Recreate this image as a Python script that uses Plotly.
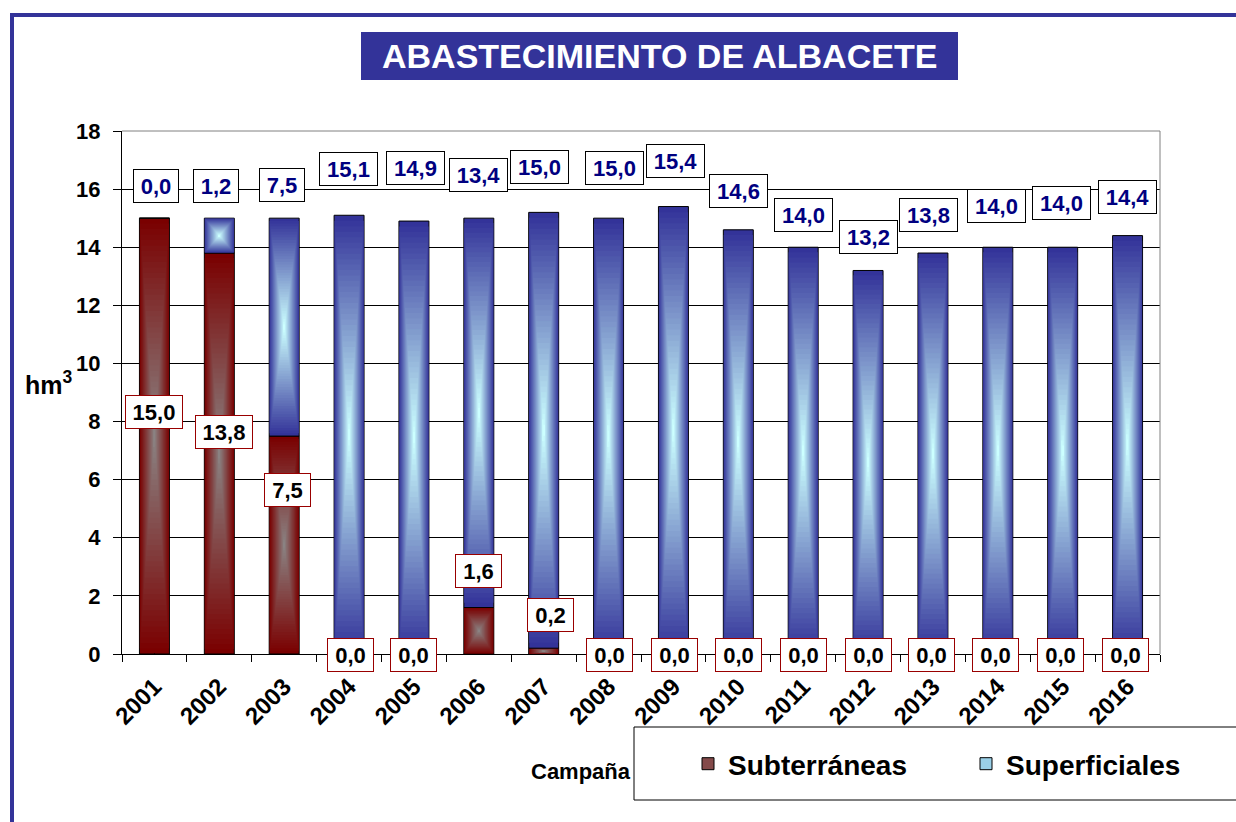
import plotly.graph_objects as go
import numpy as np

# ---------------- data ----------------
years = [str(y) for y in range(2001, 2017)]
subterraneas = [15.0, 13.8, 7.5, 0.0, 0.0, 1.6, 0.2, 0.0, 0.0, 0.0, 0.0, 0.0, 0.0, 0.0, 0.0, 0.0]
superficiales = [0.0, 1.2, 7.5, 15.1, 14.9, 13.4, 15.0, 15.0, 15.4, 14.6, 14.0, 13.2, 13.8, 14.0, 14.0, 14.4]
y_ticks = [0, 2, 4, 6, 8, 10, 12, 14, 16, 18]

# label placement (data-y of label centres, horizontal nudges in px)
sup_label_y = [16.11, 16.11, 16.14, 16.69, 16.73, 16.49, 16.76, 16.73, 16.97, 15.94, 15.11, 14.35, 15.11, 15.42, 15.52, 15.73]
sup_label_dx = [1.5, -3, -2, -1, 2, 0, -4, 6, 2.5, 0, 0, 0, -4, -1, -1, 0]
sub_label_y = [8.33, 7.64, 5.64, 0, 0, 2.86, 1.34, 0, 0, 0, 0, 0, 0, 0, 0, 0]
sub_label_dx = [0, 5, 3, 1, 0, 0, 7, 1, 1, 0, 0, 0, -1, -2, -2, -2]

FONT = "Liberation Sans, Arial, sans-serif"
BAR_W = 0.462
N_LAYERS = 40


def hex2rgb(h):
    h = h.lstrip('#')
    return [int(h[i:i + 2], 16) for i in (0, 2, 4)]


def lerp(c1, c2, t):
    a, b = hex2rgb(c1), hex2rgb(c2)
    return 'rgb(%d,%d,%d)' % tuple(round(a[i] + (b[i] - a[i]) * t) for i in range(3))


fig = go.Figure()

sub = np.array(subterraneas)
sup = np.array(superficiales)
series = [
    ("Subterráneas", sub, np.zeros_like(sub), '#7a0000', '#8a8282'),
    ("Superficiales", sup, sub, '#333399', '#ccffff'),
]

for name, vals, bases, dark, light in series:
    for k in range(N_LAYERS):
        f = k / N_LAYERS
        fig.add_trace(go.Bar(
            x=years, y=vals * (1 - f), base=bases + vals * f / 2,
            width=BAR_W * (1 - f),
            marker=dict(color=lerp(dark, light, k / (N_LAYERS - 1)),
                        line=dict(width=1 if k == 0 else 0, color='black')),
            showlegend=False, hoverinfo='skip', name=name))

# legend entries (zero-height, sit on the axis line)
fig.add_trace(go.Bar(x=[years[0]], y=[0], base=[0], width=0.01, name="Subterráneas",
                     hoverinfo='skip',
                     marker=dict(color='#844a4a', line=dict(color='black', width=1))))
fig.add_trace(go.Bar(x=[years[0]], y=[0], base=[0], width=0.01, name="Superficiales",
                     hoverinfo='skip',
                     marker=dict(color='#9ad0e8', line=dict(color='black', width=1))))


def fmt(v):
    return ("%.1f" % v).replace('.', ',')


annotations = []
for i, yr in enumerate(years):
    t = fmt(superficiales[i])
    annotations.append(dict(
        x=i, y=sup_label_y[i], xref='x', yref='y', text=t,
        showarrow=False, xshift=sup_label_dx[i], xanchor='center', yanchor='middle',
        font=dict(family=FONT, size=22, color='#000080', weight='bold'),
        bgcolor='white', bordercolor='black', borderwidth=1, borderpad=1,
        width=42 if len(t) == 3 else 55, height=30))
    t = fmt(subterraneas[i])
    annotations.append(dict(
        x=i, y=sub_label_y[i], xref='x', yref='y', text=t,
        showarrow=False, xshift=sub_label_dx[i], yshift=-1 if sub_label_y[i] == 0 else 0,
        xanchor='center', yanchor='middle',
        font=dict(family=FONT, size=22, color='black', weight='bold'),
        bgcolor='white', bordercolor='#990000', borderwidth=1, borderpad=1,
        width=43 if len(t) == 3 else 54, height=30))


def px(v):
    return (v - 122) / 1038


def py(v):
    return (654 - v) / 523


# title, axis titles
annotations.append(dict(
    x=px(660), y=py(56), xref='paper', yref='paper', xanchor='center', yanchor='middle',
    text="ABASTECIMIENTO DE ALBACETE", showarrow=False,
    font=dict(family=FONT, size=34, color='white', weight='bold')))
annotations.append(dict(
    x=px(49), y=py(383), xref='paper', yref='paper', xanchor='center', yanchor='middle',
    text="hm<sup>3</sup>", showarrow=False,
    font=dict(family=FONT, size=25, color='black', weight='bold')))
annotations.append(dict(
    x=px(633), y=py(771), xref='paper', yref='paper', xanchor='right', yanchor='middle',
    text="Campaña", showarrow=False,
    font=dict(family=FONT, size=22, color='black', weight='bold')))

shapes = [
    # title box
    dict(type='rect', xref='paper', yref='paper', x0=px(361), x1=px(958), y0=py(80), y1=py(32),
         fillcolor='#333399', line=dict(width=0), layer='below'),
    # outer frame (left & top)
    dict(type='line', xref='paper', yref='paper', x0=px(12), x1=px(12), y0=py(15), y1=py(830),
         line=dict(color='#333399', width=4)),
    dict(type='line', xref='paper', yref='paper', x0=px(10), x1=px(1240), y0=py(15), y1=py(15),
         line=dict(color='#333399', width=4)),
    # plot area border (top & right)
    dict(type='line', xref='paper', yref='paper', x0=0, x1=1, y0=1, y1=1,
         line=dict(color='#808080', width=1)),
    dict(type='line', xref='paper', yref='paper', x0=1, x1=1, y0=0, y1=1,
         line=dict(color='#808080', width=1)),
    # legend box
    dict(type='rect', xref='paper', yref='paper', x0=px(634), x1=px(1245), y0=py(800), y1=py(727),
         fillcolor='white', line=dict(color='black', width=1)),
]

fig.update_layout(
    width=1236, height=822,
    margin=dict(l=122, r=76, t=131, b=168, autoexpand=False),
    paper_bgcolor='white', plot_bgcolor='white',
    barmode='overlay',
    font=dict(family=FONT, color='black'),
    showlegend=True,
    legend=dict(orientation='h', x=px(688), y=py(764), xanchor='left', yanchor='middle',
                bgcolor='rgba(0,0,0,0)', borderwidth=0, itemwidth=30,
                font=dict(family=FONT, size=28, color='black', weight='bold'),
                entrywidth=233, entrywidthmode='pixels', traceorder='normal'),
    annotations=annotations,
    shapes=shapes,
    xaxis=dict(type='category', categoryorder='array', categoryarray=years,
               range=[-0.5, 15.5], fixedrange=True, automargin=False,
               tickangle=-45, tickson='boundaries', ticks='outside', ticklen=7,
               ticklabelstandoff=8,
               tickcolor='black', showline=True, linecolor='black', linewidth=1,
               showgrid=False, tickfont=dict(family=FONT, size=24, color='black', weight='bold')),
    yaxis=dict(range=[0, 18], tickvals=y_ticks, ticks='outside', ticklen=8,
               fixedrange=True, automargin=False, ticklabelstandoff=8,
               tickcolor='black', showline=True, linecolor='black', linewidth=1,
               showgrid=True, gridcolor='black', gridwidth=1, zeroline=False,
               tickfont=dict(family=FONT, size=22, color='black', weight='bold')),
)

fig.write_html("out.html", config={'displayModeBar': False},
               post_script="document.body.style.margin='0';")
